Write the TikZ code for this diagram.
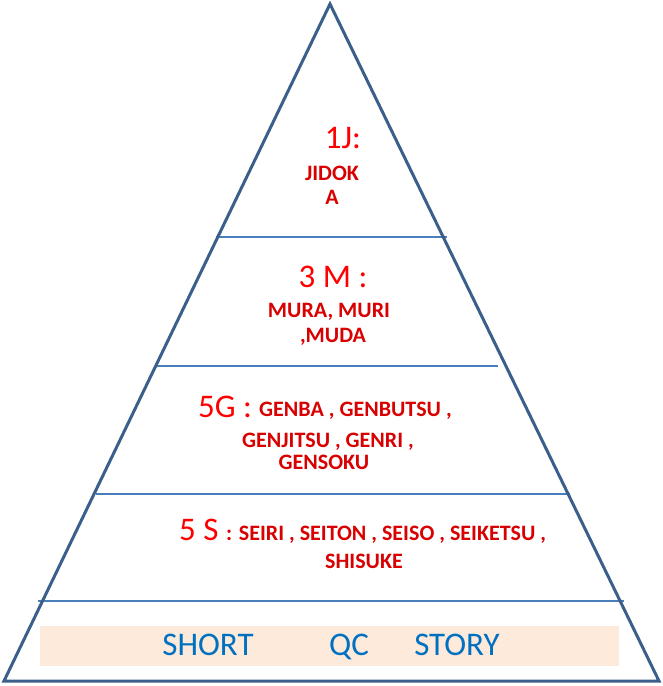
\documentclass[tikz,border=0pt]{standalone}
\usepackage{fontspec}
\setmainfont{Carlito}
\definecolor{edgeblue}{HTML}{3A5F8B}
\definecolor{lineblue}{HTML}{4A7EBB}
\definecolor{peach}{HTML}{FDEADA}
\definecolor{qcblue}{HTML}{0070C0}
\definecolor{hdrred}{HTML}{FF0000}
\definecolor{wordred}{HTML}{D80000}
\tikzset{
  hdr/.style={text=hdrred, font=\fontsize{33}{36}\selectfont, inner sep=0pt, anchor=base},
  lvl/.style={text=wordred, font=\fontsize{22}{25}\selectfont\bfseries, inner sep=0pt, anchor=base},
  qc/.style={text=qcblue, font=\fontsize{33}{36}\selectfont, inner sep=0pt, anchor=base}
}
\begin{document}
\begin{tikzpicture}[x=1pt, y=-1pt]
\useasboundingbox (0,0) rectangle (663,686);
% band at the bottom
\fill[peach] (40,626) rectangle (619,666);
% level lines
\foreach \y/\a/\b in {237/216/447, 366/157/498, 494/96/570, 601/38/624} {
    \draw[lineblue, line width=1.5pt] (\a,\y) -- (\b,\y);
}
% pyramid
\draw[edgeblue, line width=3pt, line join=miter] (4,681) -- (330,4) -- (659,681) -- cycle;
% top: 1J
\node[hdr] (jhead) at (343,148) {1J:};
\node[lvl] (jidok) at (332,180) {JIDOK};
\node[lvl] (jidoka) at (332,204) {A};
% 3M
\node[hdr] (mhead) at (333,287) {3 M :};
\node[lvl] (mura) at (329,317) {MURA, MURI};
\node[lvl] (muda) at (333,342) {,MUDA};
% 5G
\node[hdr, anchor=base west] (ghead) at (198,417) {5G :};
\node[lvl, anchor=base west] (genba) at (259,416) {GENBA , GENBUTSU ,};
\node[lvl] (genjitsu) at (328,447) {GENJITSU , GENRI ,};
\node[lvl] (gensoku) at (324,469) {GENSOKU};
% 5S
\node[hdr, anchor=base west] (shead) at (179,540) {5 S};
\node[lvl, anchor=base west] (seiri) at (226,540) {: SEIRI , SEITON , SEISO , SEIKETSU ,};
\node[lvl] (shisuke) at (364,568) {SHISUKE};
% base band
\node[qc] (short) at (208,655) {SHORT};
\node[qc] (qcword) at (349,655) {QC};
\node[qc] (story) at (457,655) {STORY};
\end{tikzpicture}
\end{document}
